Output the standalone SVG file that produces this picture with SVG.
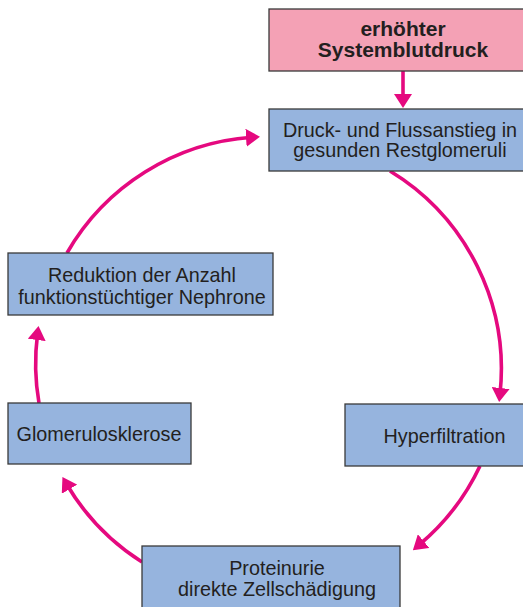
<svg xmlns="http://www.w3.org/2000/svg" width="523" height="607" viewBox="0 0 523 607">
<defs>
<style>
.box{fill:#96B4DE;stroke:#3A3A3A;stroke-width:1.3}
.pink{fill:#F4A1B5;stroke:#3A3A3A;stroke-width:1.3}
.t{font-family:"Liberation Sans",Arial,sans-serif;font-size:19.8px;fill:#231F20;text-anchor:middle}
.b{font-family:"Liberation Sans",Arial,sans-serif;font-size:21px;font-weight:bold;fill:#231F20;text-anchor:middle}
.arc{fill:none;stroke:#E5097F;stroke-width:3.6;marker-end:url(#ah)}
</style>
<marker id="ah" markerUnits="userSpaceOnUse" markerWidth="14" markerHeight="18" refX="6" refY="9" orient="auto">
<path d="M0,0 L14,9 L0,18 z" fill="#E5097F"/>
</marker>
</defs>
<rect width="523" height="607" fill="#FFFFFF"/>
<g id="connectors">
<path class="arc" d="M403,71 L403,100"/>
<path class="arc" d="M390,171 A232,232 0 0 1 500,394"/>
<path class="arc" d="M480,466 A232,232 0 0 1 419,545"/>
<path class="arc" d="M142,562 A232,232 0 0 1 66.5,484"/>
<path class="arc" d="M39,403 A232,232 0 0 1 37.5,334"/>
<path class="arc" d="M67,253 A232,232 0 0 1 252,137.3"/>
</g>
<g id="node-systemblutdruck">
<rect class="pink" x="269" y="9" width="262" height="62"/>
<text class="b" x="403" y="36">erhöhter</text>
<text class="b" x="403" y="57">Systemblutdruck</text>
</g>
<g id="node-druckanstieg">
<rect class="box" x="269" y="109" width="262" height="62"/>
<text class="t" x="400" y="137">Druck- und Flussanstieg in</text>
<text class="t" x="400" y="157">gesunden Restglomeruli</text>
</g>
<g id="node-hyperfiltration">
<rect class="box" x="345" y="404" width="190" height="62"/>
<text class="t" x="444.5" y="443">Hyperfiltration</text>
</g>
<g id="node-proteinurie">
<rect class="box" x="142" y="546" width="258" height="70"/>
<text class="t" x="277" y="575">Proteinurie</text>
<text class="t" x="277" y="596">direkte Zellschädigung</text>
</g>
<g id="node-glomerulosklerose">
<rect class="box" x="8" y="403" width="183" height="61"/>
<text class="t" x="99" y="441">Glomerulosklerose</text>
</g>
<g id="node-reduktion">
<rect class="box" x="8" y="253" width="265" height="62"/>
<text class="t" x="142" y="282">Reduktion der Anzahl</text>
<text class="t" x="142" y="304">funktionstüchtiger Nephrone</text>
</g>
</svg>
